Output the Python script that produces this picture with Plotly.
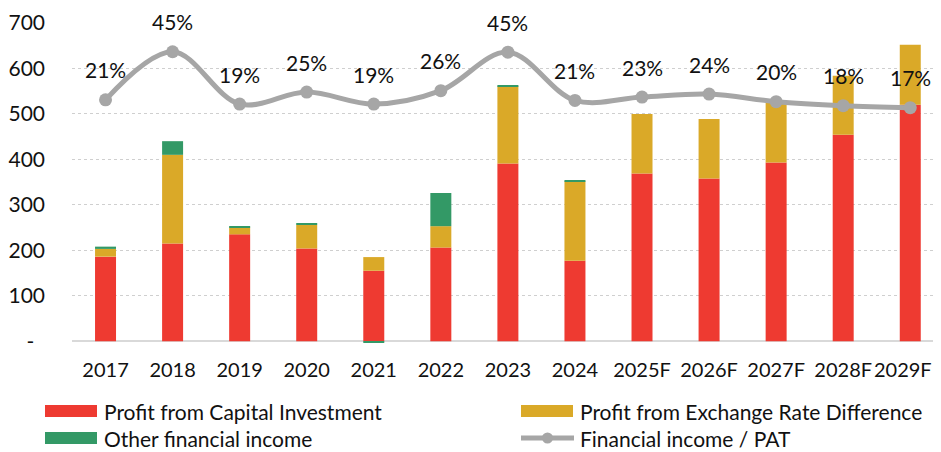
import plotly.graph_objects as go

# chart data
years = ["2017", "2018", "2019", "2020", "2021", "2022", "2023", "2024",
         "2025F", "2026F", "2027F", "2028F", "2029F"]
capital_investment = [186, 215, 235, 204, 155, 206, 391, 177, 369, 358, 393, 454, 520]
exchange_rate_diff = [17, 195, 15, 52, 30, 47, 170, 175, 131, 131, 132, 130, 132]
other_income = [5, 30, 3, 2, -2, 73, 2, 1, 0, 0, 0, 0, 0]
income_to_pat = [21.3, 45.4, 19.2, 25.2, 19.2, 25.9, 45.2, 21.0, 22.7, 24.2, 20.4, 18.4, 17.4]
pct_labels = ["21%", "45%", "19%", "25%", "19%", "26%", "45%", "21%", "23%", "24%", "20%", "18%", "17%"]

y_ticks = [0, 100, 200, 300, 400, 500, 600, 700]
y_ticktext = ["-\u00a0\u00a0", "100", "200", "300", "400", "500", "600", "700"]
# last label nudged left a little so it is not clipped at the right edge
x_ticktext = years[:-1] + [years[-1] + "\u00a0" * 3]

RED = "#EE3A31"
GOLD = "#DAA928"
GREEN = "#339966"
GREY = "#A6A6A6"
TEXT = "#111111"
FONT = "Lato"

# page body has an 8px margin; the visible page ends around x=934
OFF = 8
W, H = 934 - OFF, 452 - OFF


def px_x(p):
    return (p - OFF) / W


def px_y(p):
    return 1 - (p - OFF) / H


fig = go.Figure()

fig.add_trace(go.Bar(x=years, y=capital_investment, name="Profit from Capital Investment",
                     marker=dict(color=RED, line=dict(width=0))))
fig.add_trace(go.Bar(x=years, y=exchange_rate_diff, name="Profit from Exchange Rate Difference",
                     marker=dict(color=GOLD, line=dict(width=0))))
fig.add_trace(go.Bar(x=years, y=other_income, name="Other financial income",
                     marker=dict(color=GREEN, line=dict(width=0))))
fig.add_trace(go.Scatter(x=years, y=income_to_pat, name="Financial income / PAT", yaxis="y2",
                         mode="lines+markers",
                         line=dict(color=GREY, width=5, shape="spline", smoothing=1),
                         marker=dict(color=GREY, size=13)))

# percentage labels above the line points
annotations = []
for i, (v, lab) in enumerate(zip(income_to_pat, pct_labels)):
    annotations.append(dict(x=i, y=v, xref="x", yref="y2", text=lab, showarrow=False,
                            yshift=30, font=dict(family=FONT, size=21, color=TEXT)))

# hand-made legend, two columns
legend_items = [
    ("Profit from Capital Investment", RED, "rect", 45, 411),
    ("Profit from Exchange Rate Difference", GOLD, "rect", 521, 411),
    ("Other financial income", GREEN, "rect", 45, 438),
    ("Financial income / PAT", GREY, "line", 521, 438),
]
shapes = []
for name, col, kind, x0, yc in legend_items:
    if kind == "rect":
        shapes.append(dict(type="rect", xref="paper", yref="paper",
                           x0=px_x(x0), x1=px_x(x0 + 52), y0=px_y(yc + 6), y1=px_y(yc - 6),
                           fillcolor=col, line=dict(width=0)))
    else:
        shapes.append(dict(type="line", xref="paper", yref="paper",
                           x0=px_x(x0), x1=px_x(x0 + 53), y0=px_y(yc), y1=px_y(yc),
                           line=dict(color=col, width=5)))
        shapes.append(dict(type="circle", xref="paper", yref="paper",
                           x0=px_x(x0 + 21), x1=px_x(x0 + 32), y0=px_y(yc + 5.5), y1=px_y(yc - 5.5),
                           fillcolor=col, line=dict(width=0)))
    annotations.append(dict(x=px_x(x0 + 57), y=px_y(yc), xref="paper", yref="paper",
                            text=name, showarrow=False, xanchor="left", yanchor="middle",
                            font=dict(family=FONT, size=21, color=TEXT)))

fig.update_layout(
    width=W, height=H,
    margin=dict(l=0, r=0, t=0, b=0),
    paper_bgcolor="white", plot_bgcolor="white",
    barmode="relative", bargap=0.687,
    showlegend=False,
    font=dict(family=FONT, size=21, color=TEXT),
    xaxis=dict(domain=[px_x(72), 1], range=[-0.5, 12.354], showgrid=False, showline=False,
               tickmode="array", tickvals=years, ticktext=x_ticktext, tickangle=0,
               ticks="", automargin=False, ticklabelstandoff=13,
               tickfont=dict(family=FONT, size=20)),
    yaxis=dict(domain=[px_y(343), px_y(23)], range=[-4, 700], tickvals=y_ticks, ticktext=y_ticktext,
               showgrid=True, gridcolor="#CFCFCF", griddash="dot", gridwidth=1,
               zeroline=True, zerolinecolor="#D9D9D9", zerolinewidth=2,
               ticks="", automargin=False, ticklabelstandoff=26,
               tickfont=dict(family=FONT, size=21)),
    yaxis2=dict(overlaying="y", range=[-100.5, 59.8], visible=False),
    annotations=annotations,
    shapes=shapes,
)

fig.write_html("out.html")
